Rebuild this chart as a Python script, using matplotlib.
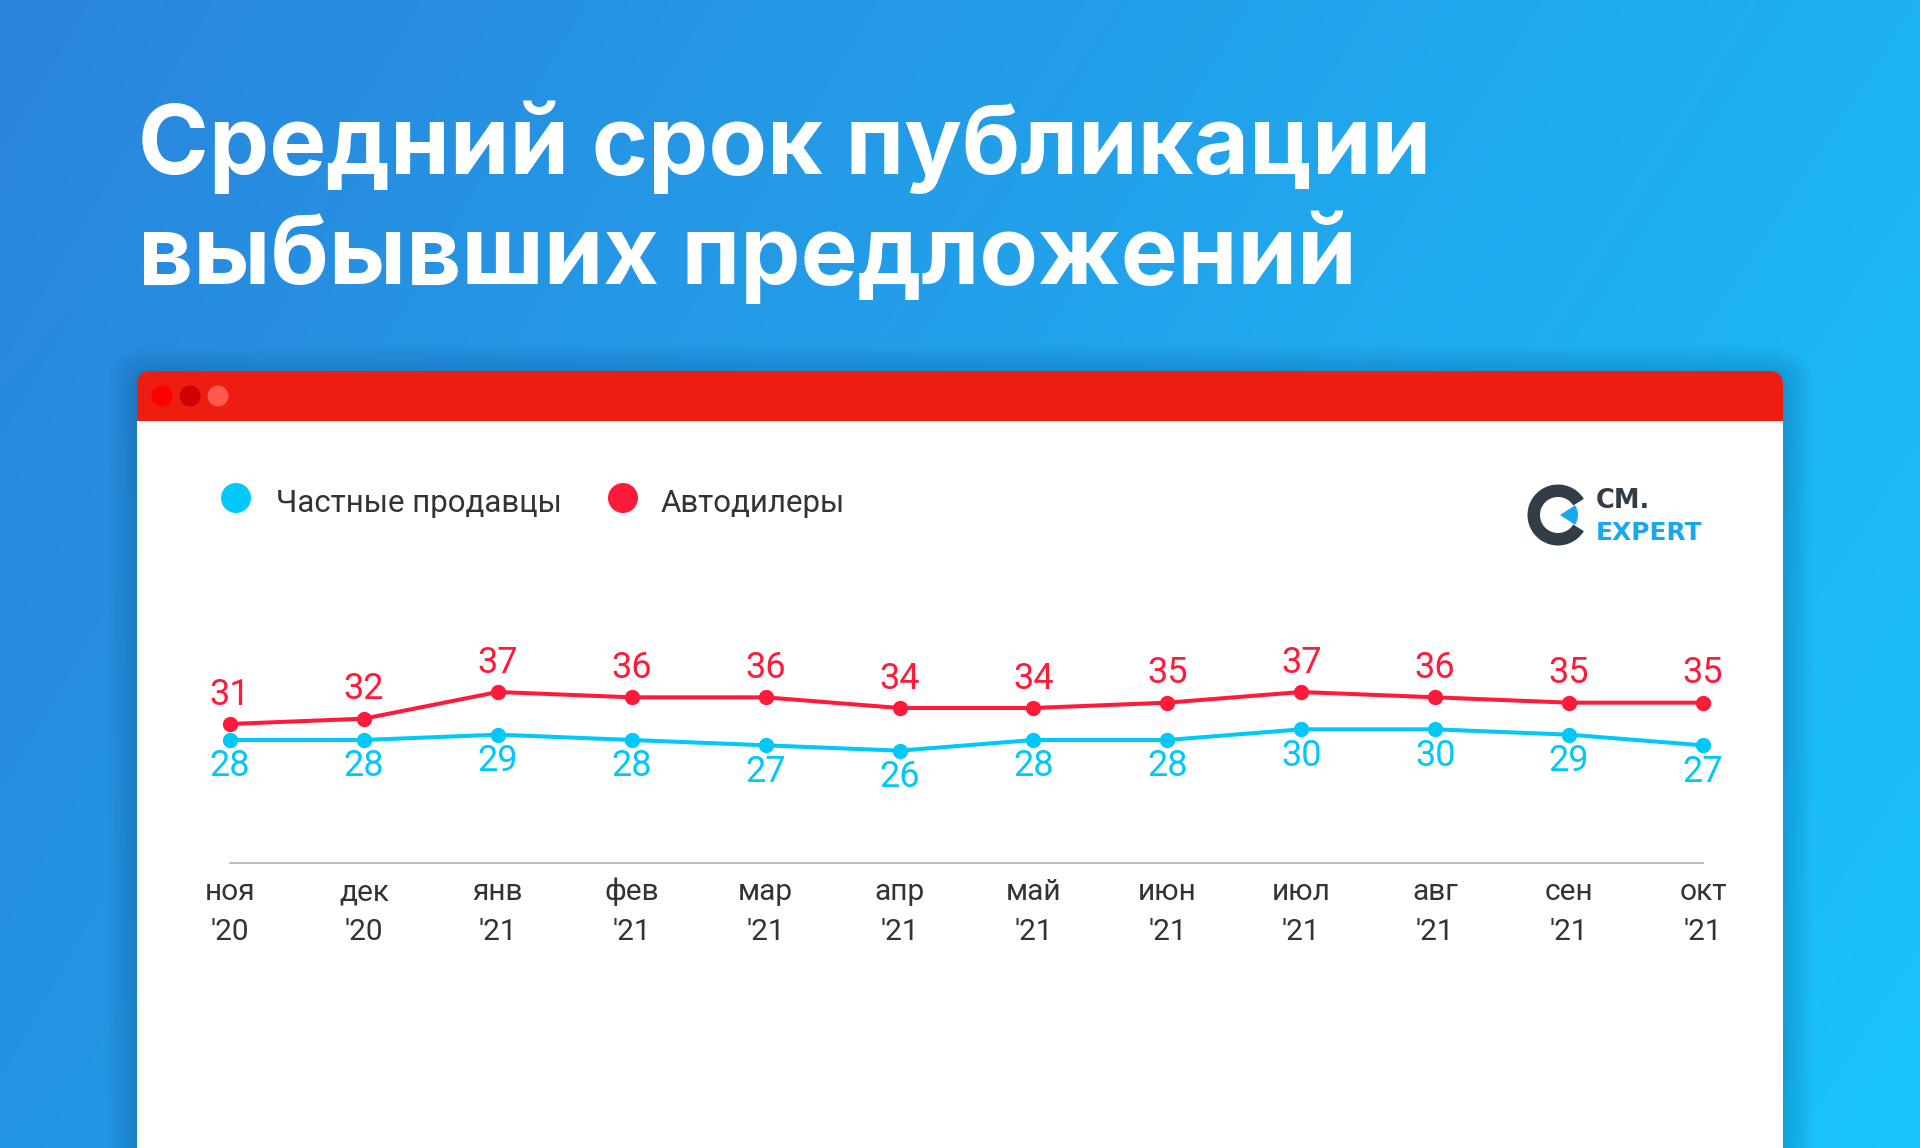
import numpy as np
import matplotlib.pyplot as plt
from matplotlib.patches import FancyBboxPatch, Rectangle, Circle, Wedge

months = ["ноя", "дек", "янв", "фев", "мар", "апр", "май", "июн", "июл", "авг", "сен", "окт"]
years = ["'20", "'20", "'21", "'21", "'21", "'21", "'21", "'21", "'21", "'21", "'21", "'21"]
private = [28, 28, 29, 28, 27, 26, 28, 28, 30, 30, 29, 27]
dealers = [31, 32, 37, 36, 36, 34, 34, 35, 37, 36, 35, 35]

title_lines = ["Средний срок публикации", "выбывших предложений"]
legend_names = ["Частные продавцы", "Автодилеры"]

RED = "#ff1a3a"
CYAN = "#00c8f8"
DARK = "#333333"

W, H = 1920, 1148
fig = plt.figure(figsize=(19.2, 11.48), dpi=100)

# background layer in pixel coords
bg = fig.add_axes([0, 0, 1, 1])
bg.set_xlim(0, W)
bg.set_ylim(H, 0)
bg.axis("off")

tl = np.array([42, 132, 220]) / 255
tr = np.array([30, 178, 242]) / 255
bl = np.array([36, 148, 226]) / 255
br = np.array([26, 196, 252]) / 255
u = np.linspace(0, 1, 200)[None, :, None]
v = np.linspace(0, 1, 120)[:, None, None]
grad = (1 - v) * ((1 - u) * tl + u * tr) + v * ((1 - u) * bl + u * br)
bg.imshow(grad, extent=[0, W, H, 0], aspect="auto", interpolation="bilinear", zorder=0)

# window shadow
for i in range(10):
    d = 2 + i * 3
    bg.add_patch(FancyBboxPatch((137 - d, 371 - d + 4), 1646 + 2 * d, 900,
                                boxstyle="round,pad=0,rounding_size=%d" % (14 + d),
                                fc="#0a3a70", ec="none", alpha=0.025, zorder=1))

# window
bg.add_patch(FancyBboxPatch((137, 371), 1646, 900, boxstyle="round,pad=0,rounding_size=14",
                            fc="#ee1d12", ec="none", zorder=2))
bg.add_patch(Rectangle((137, 421), 1646, 900, fc="white", ec="none", zorder=3))
for cx, col in zip([162, 190, 218], ["#ff0000", "#cc0000", "#ff5a4c"]):
    bg.add_patch(Circle((cx, 396), 10.5, fc=col, ec="none", zorder=4))

# title, sized to the reference width
fig.canvas.draw()
renderer = fig.canvas.get_renderer()
tfont = ["Inter", "DejaVu Sans"]
t1 = bg.text(138, 174, title_lines[0], color="white", fontsize=74, fontweight="bold",
             family=tfont, va="baseline", zorder=5)
t2 = bg.text(138, 284, title_lines[1], color="white", fontsize=74, fontweight="bold",
             family=tfont, va="baseline", zorder=5)
w1 = t1.get_window_extent(renderer).width
w2 = t2.get_window_extent(renderer).width
fs = 74 * 0.5 * (1309 / w1 + 1203 / w2)
t1.set_fontsize(fs)
t2.set_fontsize(fs)

# legend
for cx, tx, col, name in zip([236, 623], [276, 661], [CYAN, RED], legend_names):
    bg.add_patch(Circle((cx, 498), 15, fc=col, ec="none", zorder=5))
    bg.text(tx, 504, name, color=DARK, fontsize=22.5, family=["Roboto", "DejaVu Sans"],
            va="center", ha="left", zorder=5)

# logo
bg.add_patch(Wedge((1558, 515), 30.5, 32, 328, width=12.5, fc="#333d47", ec="none", zorder=5))
bg.add_patch(Wedge((1560, 515), 18, -33, 33, fc="#1aa7f0", ec="none", zorder=5))
bg.text(1596, 508, "CM.", color="#333d47", fontsize=18.5, fontweight="bold",
        family="DejaVu Sans", va="baseline", zorder=5)
bg.text(1596, 540, "EXPERT", color="#1aa7f0", fontsize=18, fontweight="bold",
        family="DejaVu Sans", va="baseline", zorder=5)

# chart
ax = fig.add_axes([230 / W, 1 - 863 / H, 1473 / W, (863 - 676) / H])
ax.patch.set_alpha(0)
x = np.arange(len(months))
ax.set_xlim(0, len(months) - 1)
ax.set_ylim(4.93, 40)
ax.plot(x, dealers, color=RED, lw=2.9, marker="o", ms=10, clip_on=False, zorder=3)
ax.plot(x, private, color=CYAN, lw=2.9, marker="o", ms=10, clip_on=False, zorder=3)

lab_font = ["Roboto", "DejaVu Sans"]
for i in range(len(months)):
    ax.annotate(str(dealers[i]), (x[i], dealers[i]), xytext=(0, 21), textcoords="offset points",
                ha="center", va="center", color=RED, fontsize=26, family=lab_font)
    ax.annotate(str(private[i]), (x[i], private[i]), xytext=(0, -19), textcoords="offset points",
                ha="center", va="center", color=CYAN, fontsize=26, family=lab_font)
    ax.annotate(months[i], (x[i], 0), xycoords=ax.get_xaxis_transform(), xytext=(0, -21),
                textcoords="offset points", ha="center", va="center", color=DARK,
                fontsize=21.5, family=lab_font, annotation_clip=False)
    ax.annotate(years[i], (x[i], 0), xycoords=ax.get_xaxis_transform(), xytext=(0, -49.5),
                textcoords="offset points", ha="center", va="center", color=DARK,
                fontsize=21.5, family=lab_font, annotation_clip=False)

for s in ["top", "right", "left"]:
    ax.spines[s].set_visible(False)
ax.spines["bottom"].set_color("#b4b9c0")
ax.spines["bottom"].set_linewidth(1.3)
ax.set_xticks([])
ax.set_yticks([])

fig.savefig("out.png", dpi=100)
